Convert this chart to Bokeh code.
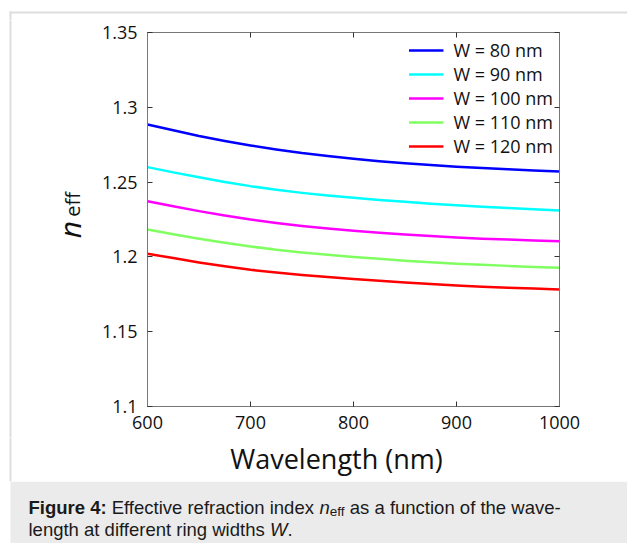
import math
from bokeh.plotting import figure
from bokeh.layouts import row, column
from bokeh.models import (LinearAxis, Legend, LegendItem, Label, BoxAnnotation,
                          Range1d, FixedTicker, NumeralTickFormatter)
from bokeh.embed import file_html
from bokeh.resources import INLINE

# ---------------- data ----------------
wavelength = [600, 625, 650, 675, 700, 725, 750, 775, 800,
              825, 850, 875, 900, 925, 950, 975, 1000]
n_w80  = [1.2885, 1.2846, 1.2808, 1.2775, 1.2745, 1.2718, 1.2694, 1.2674, 1.2656,
          1.2640, 1.2626, 1.2614, 1.2603, 1.2594, 1.2586, 1.2578, 1.2571]
n_w90  = [1.2600, 1.2565, 1.2532, 1.2501, 1.2473, 1.2449, 1.2428, 1.2410, 1.2395,
          1.2381, 1.2368, 1.2356, 1.2345, 1.2336, 1.2327, 1.2318, 1.2310]
n_w100 = [1.2372, 1.2338, 1.2306, 1.2277, 1.2250, 1.2227, 1.2207, 1.2190, 1.2175,
          1.2162, 1.2150, 1.2139, 1.2130, 1.2122, 1.2116, 1.2110, 1.2105]
n_w110 = [1.2183, 1.2152, 1.2122, 1.2095, 1.2070, 1.2048, 1.2030, 1.2014, 1.2000,
          1.1987, 1.1975, 1.1965, 1.1955, 1.1947, 1.1940, 1.1933, 1.1927]
n_w120 = [1.2021, 1.1992, 1.1963, 1.1937, 1.1914, 1.1895, 1.1879, 1.1865, 1.1852,
          1.1840, 1.1829, 1.1819, 1.1809, 1.1801, 1.1794, 1.1788, 1.1782]
series = [n_w80, n_w90, n_w100, n_w110, n_w120]
labels = ["W = 80 nm", "W = 90 nm", "W = 100 nm", "W = 110 nm", "W = 120 nm"]
colors = ["#0000ff", "#00ffff", "#ff00ff", "#80ff60", "#ff0000"]
x_ticks = [600, 700, 800, 900, 1000]
y_ticks = [1.1, 1.15, 1.2, 1.25, 1.3, 1.35]
X0, X1 = 600, 1000
Y0, Y1 = 1.1, 1.35

# ---------------- layout (page pixels) ----------------
PW, PH = 627, 543
FL, FR, FT, FB = 147, 559, 32, 406   # plot frame on the page
TOP_H = 20          # top strip: 0..20
ROW_B = 437         # chart row: 20..437
CAP_T = 481         # caption box top
LEFT_W = 90         # y-label strip width

TICK_FONT = "Open Sans"
TXT = "#111111"


def no_title(f):
    try:
        f.title = None
    except Exception:
        f.title.visible = False


def strip(x0, x1, y0, y1):
    """A frame-only figure whose data coordinates are page pixels."""
    f = figure(width=x1 - x0, height=y1 - y0, output_backend="svg",
               toolbar_location=None, x_axis_type=None, y_axis_type=None,
               x_range=Range1d(x0, x1), y_range=Range1d(y1, y0),
               min_border=0, min_border_left=0, min_border_right=0,
               min_border_top=0, min_border_bottom=0)
    no_title(f)
    f.outline_line_color = None
    f.background_fill_color = "white"
    f.border_fill_color = "white"
    # grey caption box
    f.add_layout(BoxAnnotation(left=10, right=3000, top=CAP_T, bottom=3000,
                               fill_color="#ebebeb", fill_alpha=1, line_alpha=0))
    # light outer frame of the figure panel (left and top edges)
    f.add_layout(BoxAnnotation(left=9, right=11, top=11, bottom=CAP_T,
                               fill_color="#dedede", fill_alpha=1, line_alpha=0))
    f.add_layout(BoxAnnotation(left=9, right=3000, top=11, bottom=13,
                               fill_color="#dedede", fill_alpha=1, line_alpha=0))
    return f


top_fig = strip(0, PW, 0, TOP_H)
left_fig = strip(0, LEFT_W, TOP_H, ROW_B)
xlab_fig = strip(0, PW, ROW_B, CAP_T)
cap_fig = strip(0, PW, CAP_T, PH)

# ---------------- main chart ----------------
MW = PW - LEFT_W
MH = ROW_B - TOP_H
p = figure(width=MW, height=MH, output_backend="svg", toolbar_location=None,
           x_range=Range1d(X0, X1), y_range=Range1d(Y0, Y1),
           min_border_left=FL - LEFT_W, min_border_right=PW - FR,
           min_border_top=FT - TOP_H, min_border_bottom=ROW_B - FB)
no_title(p)
p.xgrid.visible = False
p.ygrid.visible = False
p.outline_line_color = "#777777"
p.background_fill_color = "white"
p.border_fill_color = "white"


def style_axis(ax, show_labels):
    ax.axis_line_color = "#777777"
    ax.major_tick_line_color = "#333333"
    ax.major_tick_in = 5
    ax.major_tick_out = 0
    ax.minor_tick_line_color = None
    ax.major_label_text_font = TICK_FONT
    if show_labels:
        ax.major_label_text_font_size = "18px"
        ax.major_label_text_color = TXT
    else:
        ax.major_label_text_font_size = "0px"
        ax.major_label_text_color = None
        ax.major_label_standoff = 0


xa = p.xaxis[0]
xa.ticker = FixedTicker(ticks=x_ticks)
style_axis(xa, True)
xa.major_label_standoff = 9
ya = p.yaxis[0]
ya.ticker = FixedTicker(ticks=y_ticks)
ya.formatter = NumeralTickFormatter(format="0.0[0]")
style_axis(ya, True)
ya.major_label_standoff = 10

top_ax = LinearAxis(ticker=FixedTicker(ticks=x_ticks))
style_axis(top_ax, False)
p.add_layout(top_ax, "above")
right_ax = LinearAxis(ticker=FixedTicker(ticks=y_ticks))
style_axis(right_ax, False)
p.add_layout(right_ax, "right")

items = []
for ys, lab, col in zip(series, labels, colors):
    r = p.line(wavelength, ys, line_color=col, line_width=2.5, line_join="round")
    items.append(LegendItem(label=lab, renderers=[r]))

legend = Legend(items=items, location="top_right",
                label_text_font="Open Sans", label_text_font_size="18px",
                label_text_color=TXT,
                label_standoff=10, glyph_width=35, glyph_height=24,
                label_height=24, spacing=0, padding=1, margin=6,
                border_line_color=None, background_fill_alpha=0)
p.add_layout(legend)

# ---------------- axis titles ----------------
xlab_fig.add_layout(Label(x=336, y=458, text="Wavelength (nm)",
                          text_font="Open Sans", text_font_size="27px",
                          text_color=TXT, text_align="center",
                          text_baseline="alphabetic"))
left_fig.add_layout(Label(x=69, y=229, text="n", angle=math.pi / 2,
                          text_font="Open Sans", text_font_size="30px",
                          text_font_style="italic", text_color=TXT,
                          text_align="center", text_baseline="middle"))
left_fig.add_layout(Label(x=72, y=204, text="eff", angle=math.pi / 2,
                          text_font="Open Sans", text_font_size="20px",
                          text_color=TXT, text_align="center",
                          text_baseline="middle"))

# ---------------- caption ----------------
CAP = "Liberation Sans"
L1, L2 = 507, 529


def cap(text, px, py, size="18.5px", style="normal"):
    cap_fig.add_layout(Label(x=px, y=py, text=text, text_font=CAP,
                             text_font_size=size, text_font_style=style,
                             text_color="#1a1a1a", text_align="left",
                             text_baseline="alphabetic"))


cap("Figure 4:", 28, L1, style="bold")
cap("Effective refraction index", 111.2, L1)
cap("n", 318.9, L1, style="italic")
cap("eff", 329.2, L1 + 4, size="13.5px")
cap("as a function of the wave-", 349.3, L1)
cap("length at different ring widths", 28, L2)
cap("W", 269.6, L2, style="italic")
cap(".", 287.1, L2)

layout = column(top_fig, row(column(left_fig), p), xlab_fig, cap_fig)
open("out.html", "w").write(file_html(layout, INLINE))
